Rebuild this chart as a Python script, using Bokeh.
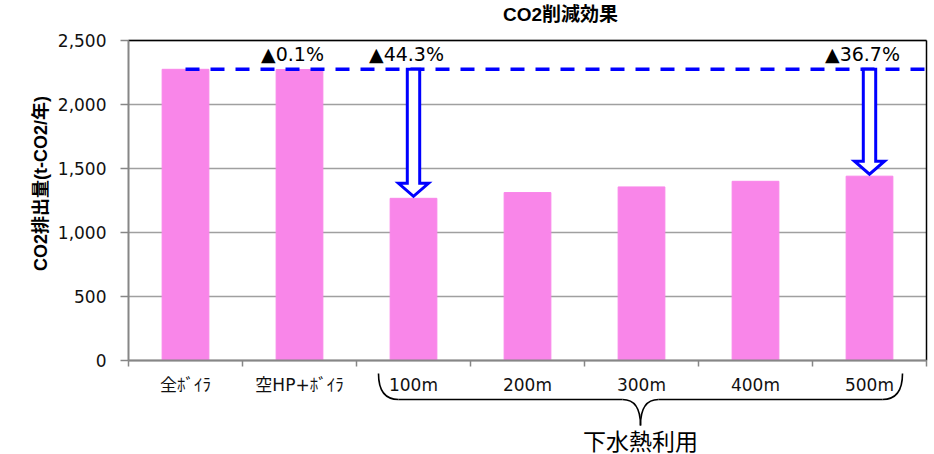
import math

from bokeh.core.properties import value
from bokeh.embed import file_html
from bokeh.models import FixedTicker, Grid, LinearAxis, NumeralTickFormatter, Range1d
from bokeh.plotting import figure
from bokeh.resources import INLINE

# ---- data -------------------------------------------------------------
TITLE = "CO2削減効果"
Y_TITLE = "CO2排出量(t-CO2/年)"
CATEGORIES = ["全ﾎﾞｲﾗ", "空HP+ﾎﾞｲﾗ", "100m", "200m", "300m", "400m", "500m"]
EMISSIONS = [2275, 2273, 1267, 1312, 1356, 1400, 1440]   # t-CO2 / year
Y_TICKS = [0, 500, 1000, 1500, 2000, 2500]
BASELINE = "全ﾎﾞｲﾗ"
LABELLED = ["空HP+ﾎﾞｲﾗ", "100m", "500m"]       # reduction vs. baseline shown
ARROWED = ["100m", "500m"]
GROUP_LABEL = "下水熱利用"
GROUP_MEMBERS = ["100m", "200m", "300m", "400m", "500m"]

# ---- layout (pixels) --------------------------------------------------
W, H = 934, 454
PLOT_LEFT, PLOT_RIGHT, PLOT_TOP, PLOT_BOTTOM = 128, 926, 40, 360

FONT = "'DejaVu Sans', 'Noto Sans CJK JP'"
BOLD_FONT = "'Liberation Sans', 'Noto Sans CJK JP'"
BAR_COLOR = "#F986E9"
AXIS_GRAY = "#868686"
GRID_GRAY = "#A0A0A0"
BLUE = "#0000FF"

n = len(CATEGORIES)
y_max = Y_TICKS[-1]
x_per_px = n / (PLOT_RIGHT - PLOT_LEFT)
y_per_px = y_max / (PLOT_BOTTOM - PLOT_TOP)


def px_x(px):
    return (px - PLOT_LEFT) * x_per_px


def px_y(py):
    return (PLOT_BOTTOM - py) * y_per_px


def dx(px):
    return px * x_per_px


def dy(px):
    return px * y_per_px


p = figure(
    width=W, height=H,
    x_range=Range1d(px_x(0), px_x(W)),
    y_range=Range1d(px_y(H), px_y(0)),
    output_backend="svg", toolbar_location=None, tools="",
    x_axis_type=None, y_axis_type=None,
    min_border=0, outline_line_color=None,
    background_fill_color="white", border_fill_color="white",
)

# ---- grid, axes, frame ------------------------------------------------
y_ticker = FixedTicker(ticks=Y_TICKS)
p.add_layout(Grid(dimension=1, ticker=y_ticker, cross_bounds=(0, n),
                  grid_line_color=GRID_GRAY, grid_line_width=1.5))

yaxis = LinearAxis(
    ticker=y_ticker, formatter=NumeralTickFormatter(format="0,0"),
    fixed_location=0, bounds=(0, y_max),
    axis_line_color=AXIS_GRAY, axis_line_width=2,
    major_tick_out=8, major_tick_in=0,
    major_tick_line_color=AXIS_GRAY, major_tick_line_width=1.5,
    minor_tick_line_color=None,
    major_label_standoff=14,
    major_label_text_font=FONT, major_label_text_font_size="17px",
    major_label_text_color="#111111",
)
p.add_layout(yaxis, "left")

centers = [i + 0.5 for i in range(n)]

# category boundaries: ticks only
xaxis_ticks = LinearAxis(
    ticker=FixedTicker(ticks=list(range(n + 1))),
    fixed_location=0, bounds=(0, n),
    axis_line_color=AXIS_GRAY, axis_line_width=2,
    major_tick_out=6, major_tick_in=0,
    major_tick_line_color=AXIS_GRAY, major_tick_line_width=1.5,
    minor_tick_line_color=None,
    major_label_text_color=None, major_label_text_font_size="1px",
)
p.add_layout(xaxis_ticks, "below")

# category names at the slot centres
xaxis_labels = LinearAxis(
    ticker=FixedTicker(ticks=centers),
    major_label_overrides={c: name for c, name in zip(centers, CATEGORIES)},
    fixed_location=0,
    axis_line_color=None, major_tick_line_color=None, minor_tick_line_color=None,
    major_tick_out=0, major_tick_in=0,
    major_label_standoff=14,
    major_label_text_font=FONT, major_label_text_font_size="17px",
    major_label_text_color="#111111",
)
p.add_layout(xaxis_labels, "below")

# top and right border of the plot area
p.segment(x0=[0, n], y0=[y_max, 0], x1=[n, n], y1=[y_max, y_max],
          line_color="black", line_width=1.5)

# ---- bars -------------------------------------------------------------
p.vbar(x=centers, top=EMISSIONS, width=0.41, bottom=0,
       fill_color=BAR_COLOR, line_color=BAR_COLOR, line_width=1)

# ---- baseline and reductions -----------------------------------------
b_idx = CATEGORIES.index(BASELINE)
base = EMISSIONS[b_idx]
p.segment(x0=[centers[b_idx]], y0=[base], x1=[n], y1=[base],
          line_color=BLUE, line_width=3.5, line_dash="14 11")

arrow_xs, arrow_ys = [], []
for name in ARROWED:
    i = CATEGORIES.index(name)
    cx = centers[i]
    tip = EMISSIONS[i] + dy(2)
    neck = tip + dy(13)
    hs, hh = dx(6.2), dx(15)
    arrow_xs.append([cx - hs, cx - hs, cx - hh, cx, cx + hh, cx + hs, cx + hs])
    arrow_ys.append([base, neck, neck, tip, neck, neck, base])
p.patches(arrow_xs, arrow_ys, fill_color="white", line_color=BLUE,
          line_width=3, line_join="miter")

lab_x, lab_y, lab_t = [], [], []
for name in LABELLED:
    i = CATEGORIES.index(name)
    pct = (base - EMISSIONS[i]) / base * 100
    lab_x.append(centers[i] - dx(7))
    lab_y.append(base + dy(15))
    lab_t.append(f"▲{pct:.1f}%")
p.text(x=lab_x, y=lab_y, text=lab_t,
       text_align="center", text_baseline="middle",
       text_font=value(FONT), text_font_size="19px", text_color="black")

# ---- brace grouping the sewage-heat cases ---------------------------------
g0 = CATEGORIES.index(GROUP_MEMBERS[0])
g1 = CATEGORIES.index(GROUP_MEMBERS[-1]) + 1
left, right = g0 + dx(22), g1 - dx(24)
mid = (left + right) / 2
y_end, y_bar, y_tip = -dy(13), -dy(39), -dy(65)
rc, rt = dx(20), dx(18)
p.quadratic(
    x0=[left, mid - rt, mid, right - rc],
    y0=[y_end, y_bar, y_tip, y_bar],
    x1=[left + rc, mid, mid + rt, right],
    y1=[y_bar, y_tip, y_bar, y_end],
    cx=[left, mid, mid, right],
    cy=[y_bar, y_bar, y_bar, y_bar],
    line_color="black", line_width=1.6,
)
p.segment(x0=[left + rc, mid + rt], y0=[y_bar, y_bar],
          x1=[mid - rt, right - rc], y1=[y_bar, y_bar],
          line_color="black", line_width=1.6)
p.text(x=[mid], y=[-dy(81)], text=[GROUP_LABEL],
       text_align="center", text_baseline="middle",
       text_font=value(FONT), text_font_size="23px", text_color="black")

# ---- titles -----------------------------------------------------------------
p.text(x=[px_x(560)], y=[px_y(14)], text=[TITLE],
       text_align="center", text_baseline="middle",
       text_font=value(BOLD_FONT), text_font_size="19px",
       text_font_style="bold", text_color="black")
p.text(x=[px_x(40)], y=[px_y(183)], text=[Y_TITLE], angle=math.pi / 2,
       text_align="center", text_baseline="middle",
       text_font=value(BOLD_FONT), text_font_size="18px",
       text_font_style="bold", text_color="black")

with open("out.html", "w") as f:
    f.write(file_html(p, INLINE))
